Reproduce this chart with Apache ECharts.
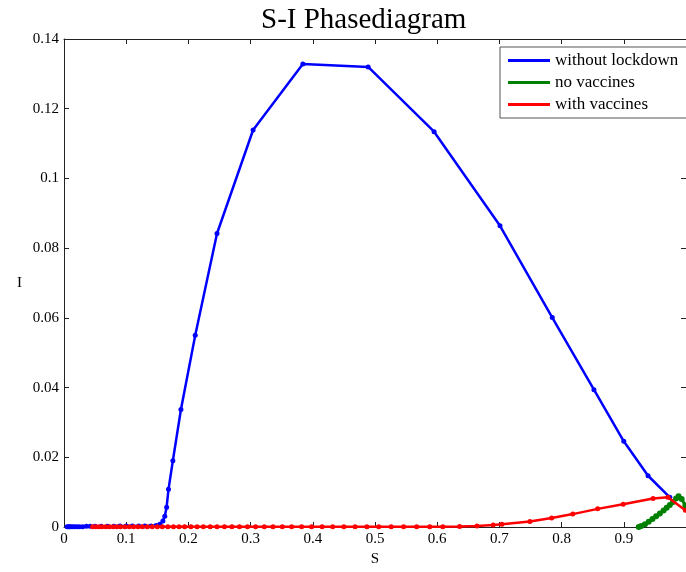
<!DOCTYPE html>
<html>
<head>
<meta charset="utf-8">
<script src="https://cdn.jsdelivr.net/npm/echarts@6/dist/echarts.min.js"></script>
<style>html,body{margin:0;padding:0;background:#fff}#c{width:686px;height:572px}</style>
</head>
<body>
<div id="c"></div>
<script>
// Series names
const seriesNames = ['without lockdown', 'no vaccines', 'with vaccines'];
// without lockdown: S values and I values (time order)
const blueS = [0.974,0.939,0.900,0.852,0.785,0.701,0.595,0.489,0.384,0.304,0.246,0.211,0.188,0.175,0.168,0.165,0.162,0.159,0.154,0.148,0.140,0.130,0.120,0.110,0.100,0.090,0.080,0.070,0.060,0.050,0.042,0.036,0.030,0.025,0.021,0.017,0.014,0.011,0.009,0.007,0.005];
const blueI = [0.0085,0.0147,0.0246,0.0394,0.0601,0.0864,0.1134,0.1320,0.1328,0.1139,0.0842,0.0550,0.0337,0.0190,0.0108,0.0057,0.0031,0.0017,0.0008,0.0004,0.0003,0.0003,0.0003,0.0003,0.0003,0.0003,0.0002,0.0002,0.0002,0.0002,0.0002,0.0002,0.0001,0.0001,0.0001,0.0001,0.0001,0.0001,0.0001,0.0001,0.0001];
// no vaccines
const greenS = [0.999,0.993,0.988,0.984,0.979,0.974,0.969,0.964,0.958,0.952,0.946,0.940,0.934,0.928,0.924];
const greenI = [0.0062,0.0080,0.0088,0.0082,0.0072,0.0063,0.0055,0.0047,0.0039,0.0031,0.0023,0.0015,0.0008,0.0003,0.0000];
// with vaccines
const redS = [0.999,0.971,0.947,0.899,0.858,0.818,0.784,0.749,0.704,0.690,0.664,0.636,0.609,0.588,0.567,0.546,0.526,0.506,0.487,0.468,0.450,0.432,0.415,0.398,0.382,0.366,0.351,0.336,0.322,0.308,0.295,0.282,0.270,0.258,0.246,0.235,0.224,0.214,0.204,0.194,0.185,0.176,0.167,0.158,0.150,0.142,0.134,0.126,0.119,0.112,0.105,0.098,0.091,0.085,0.079,0.073,0.067,0.061,0.056,0.051,0.046];
const redI = [0.0048,0.0085,0.0082,0.0065,0.0052,0.0037,0.0026,0.0016,0.0008,0.0006,0.0003,0.00015,0.0001,0.0001,0.0001,0.0001,0.0001,0.0001,0.0001,0.0001,0.0001,0.0001,0.0001,0.0001,0.0001,0.0001,0.0001,0.0001,0.0001,0.0001,0.0001,0.0001,0.0001,0.0001,0.0001,0.0001,0.0001,0.0001,0.0001,0.0001,0.0001,0.0001,0.0001,0.0001,0.0001,0.0001,0.0001,0.0001,0.0001,0.0001,0.0001,0.0001,0.0001,0.0001,0.0001,0.0001,0.0001,0.0001,0.0001,0.0001,0.0001];

const pair = (xs, ys) => xs.map((x, i) => [x, ys[i]]);
const FONT = 'Liberation Serif';
const axisLine = {show: true, onZero: false, lineStyle: {color: '#222', width: 1}};
const axisTick = {show: true, inside: true, length: 5, lineStyle: {color: '#222'}};

const chart = echarts.init(document.getElementById('c'), null, {renderer: 'canvas'});
chart.setOption({
  animation: false,
  backgroundColor: '#fff',
  title: {
    text: 'S-I Phasediagram', left: 256, top: 1,
    textStyle: {fontFamily: FONT, fontSize: 29, fontWeight: 'normal', color: '#000'}
  },
  legend: {
    data: seriesNames, orient: 'vertical', left: 500, top: 47,
    padding: [5, 10, 5, 8], itemGap: 5, itemWidth: 42, itemHeight: 3, icon: 'rect',
    itemTextGap: 3,
    borderColor: '#555', borderWidth: 1, backgroundColor: '#fff',
    textStyle: {fontFamily: FONT, fontSize: 17, color: '#000'}
  },
  grid: {left: 64, right: -1, top: 39, bottom: 39},
  xAxis: [{
    type: 'value', min: 0, max: 1, interval: 0.1, position: 'bottom',
    name: 'S', nameLocation: 'middle', nameGap: 25,
    nameTextStyle: {fontFamily: FONT, fontSize: 15, color: '#000'},
    axisLine, axisTick, splitLine: {show: false},
    axisLabel: {fontFamily: FONT, fontSize: 15, color: '#000', margin: 5, showMaxLabel: false}
  }, {
    type: 'value', min: 0, max: 1, interval: 0.1, position: 'top',
    axisLine, axisTick, splitLine: {show: false}, axisLabel: {show: false}
  }],
  yAxis: [{
    type: 'value', min: 0, max: 0.14, interval: 0.02, position: 'left',
    name: 'I', nameLocation: 'middle', nameGap: 42, nameRotate: 0,
    nameTextStyle: {fontFamily: FONT, fontSize: 15, color: '#000'},
    axisLine, axisTick, splitLine: {show: false},
    axisLabel: {fontFamily: FONT, fontSize: 15, color: '#000', margin: 5}
  }, {
    type: 'value', min: 0, max: 0.14, interval: 0.02, position: 'right',
    axisLine, axisTick, splitLine: {show: false}, axisLabel: {show: false}
  }],
  series: [
    {name: seriesNames[0], type: 'line', data: pair(blueS, blueI), color: '#0000ff',
     lineStyle: {width: 2.5, color: '#0000ff'}, symbol: 'circle', symbolSize: 5, showSymbol: true,
     itemStyle: {color: '#0000ff'}, z: 2},
    {name: seriesNames[1], type: 'line', data: pair(greenS, greenI), color: '#008000',
     lineStyle: {width: 3, color: '#008000'}, symbol: 'circle', symbolSize: 6, showSymbol: true,
     itemStyle: {color: '#008000'}, z: 3},
    {name: seriesNames[2], type: 'line', data: pair(redS, redI), color: '#ff0000',
     lineStyle: {width: 2.5, color: '#ff0000'}, symbol: 'circle', symbolSize: 5, showSymbol: true,
     itemStyle: {color: '#ff0000'}, z: 4}
  ]
});
</script>
</body>
</html>
